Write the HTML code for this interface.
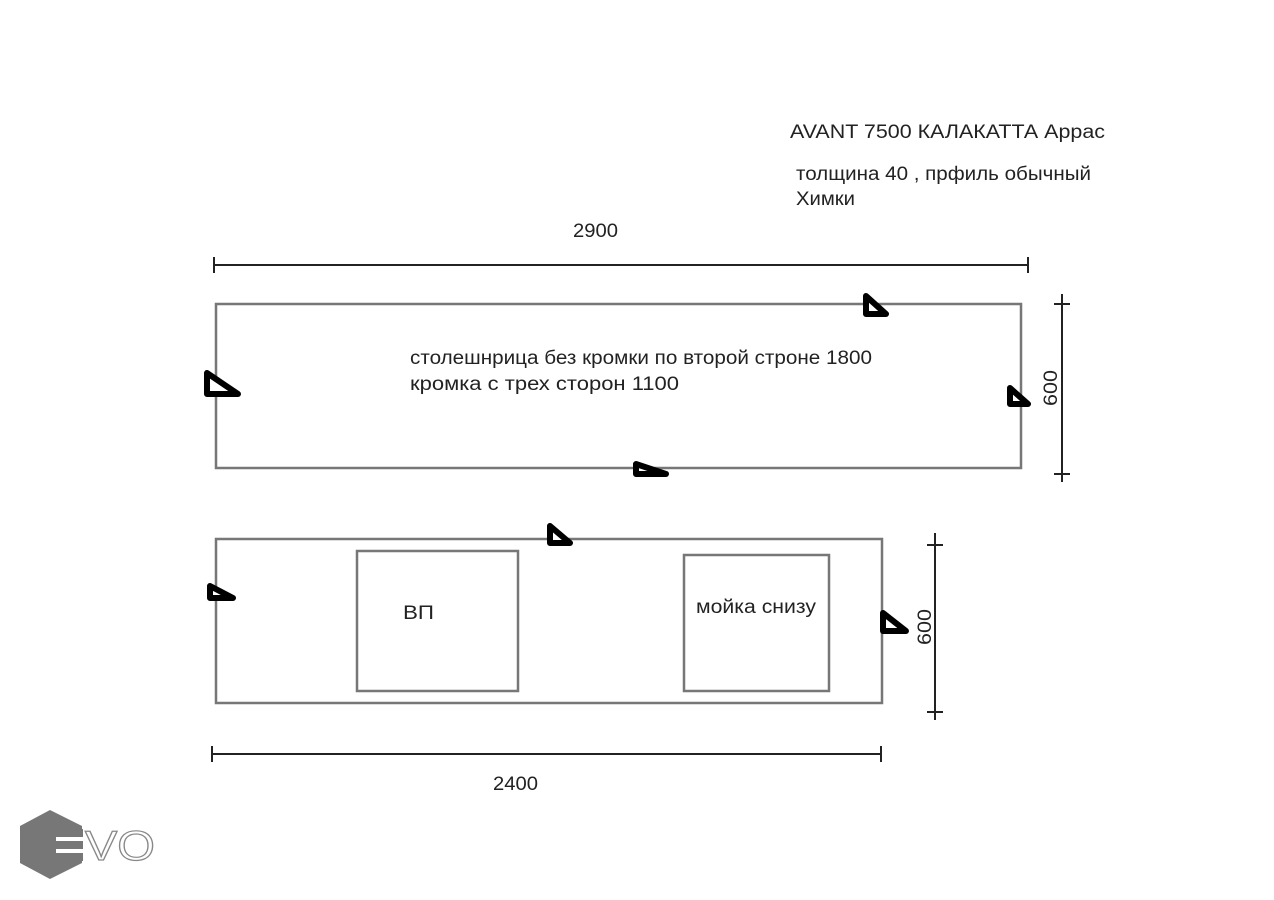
<!DOCTYPE html>
<html><head><meta charset="utf-8"><style>
html,body{margin:0;padding:0;background:#fff;}
svg{display:block}
text{font-family:"Liberation Sans","DejaVu Sans",sans-serif;fill:#222;font-size:19px}
</style></head><body>
<svg width="1274" height="900" viewBox="0 0 1274 900" xmlns="http://www.w3.org/2000/svg">
<g stroke="#777" stroke-width="2.5" fill="none">
<rect x="216" y="304" width="805" height="164"/>
<rect x="216" y="539" width="666" height="164"/>
<rect x="357" y="551" width="161" height="140"/>
<rect x="684" y="555" width="145" height="136"/>
</g>
<g stroke="#222" stroke-width="2" fill="none">
<line x1="214" y1="265" x2="1028" y2="265"/>
<line x1="214" y1="257" x2="214" y2="273"/>
<line x1="1028" y1="257" x2="1028" y2="273"/>
<line x1="1062" y1="294" x2="1062" y2="482"/>
<line x1="1054" y1="304" x2="1070" y2="304"/>
<line x1="1054" y1="474" x2="1070" y2="474"/>
<line x1="935" y1="533" x2="935" y2="720"/>
<line x1="927" y1="545" x2="943" y2="545"/>
<line x1="927" y1="712" x2="943" y2="712"/>
<line x1="212" y1="754" x2="881" y2="754"/>
<line x1="212" y1="746" x2="212" y2="762"/>
<line x1="881" y1="746" x2="881" y2="762"/>
</g>
<g fill="#fff" stroke="#000" stroke-width="6" stroke-linejoin="round">
<polygon points="207,373 207,394 238,394"/>
<polygon points="866,296 866,314 886,314"/>
<polygon points="1010,388 1010,404 1028,404"/>
<polygon points="636,464 636,474 666,474"/>
<polygon points="550,526 550,543 570,543"/>
<polygon points="210,586 210,598 233,598"/>
<polygon points="883,613 883,631 906,631"/>
</g>
<text x="790" y="138" textLength="315" lengthAdjust="spacingAndGlyphs">AVANT 7500 КАЛАКАТТА Аррас</text>
<text x="796" y="180" textLength="295" lengthAdjust="spacingAndGlyphs">толщина 40 , прфиль обычный</text>
<text x="796" y="205" textLength="59" lengthAdjust="spacingAndGlyphs">Химки</text>
<text x="573" y="237" textLength="45" lengthAdjust="spacingAndGlyphs">2900</text>
<text x="410" y="364" textLength="462" lengthAdjust="spacingAndGlyphs">столешнрица без кромки по второй строне 1800</text>
<text x="410" y="390" textLength="269" lengthAdjust="spacingAndGlyphs">кромка  с трех сторон  1100</text>
<text x="403" y="619" textLength="31" lengthAdjust="spacingAndGlyphs">ВП</text>
<text x="696" y="613" textLength="120" lengthAdjust="spacingAndGlyphs">мойка снизу</text>
<text x="493" y="790" textLength="45" lengthAdjust="spacingAndGlyphs">2400</text>
<text transform="translate(1057,406) rotate(-90)" textLength="36" lengthAdjust="spacingAndGlyphs">600</text>
<text transform="translate(931,645) rotate(-90)" textLength="36" lengthAdjust="spacingAndGlyphs">600</text>
<polygon points="50,810 82,826 82,863 50,879 20,863 20,826" fill="#777"/>
<g fill="#777"><rect x="56" y="829" width="27" height="8"/><rect x="56" y="841" width="27" height="8"/><rect x="56" y="853" width="27" height="8"/></g>
<g fill="#fff"><rect x="56" y="837" width="27" height="4"/><rect x="56" y="849" width="27" height="4"/></g>
<text x="85" y="860" textLength="70" lengthAdjust="spacingAndGlyphs" style="font-size:42px;fill:#fff;stroke:#888;stroke-width:1.2">VO</text>
</svg>
</body></html>
